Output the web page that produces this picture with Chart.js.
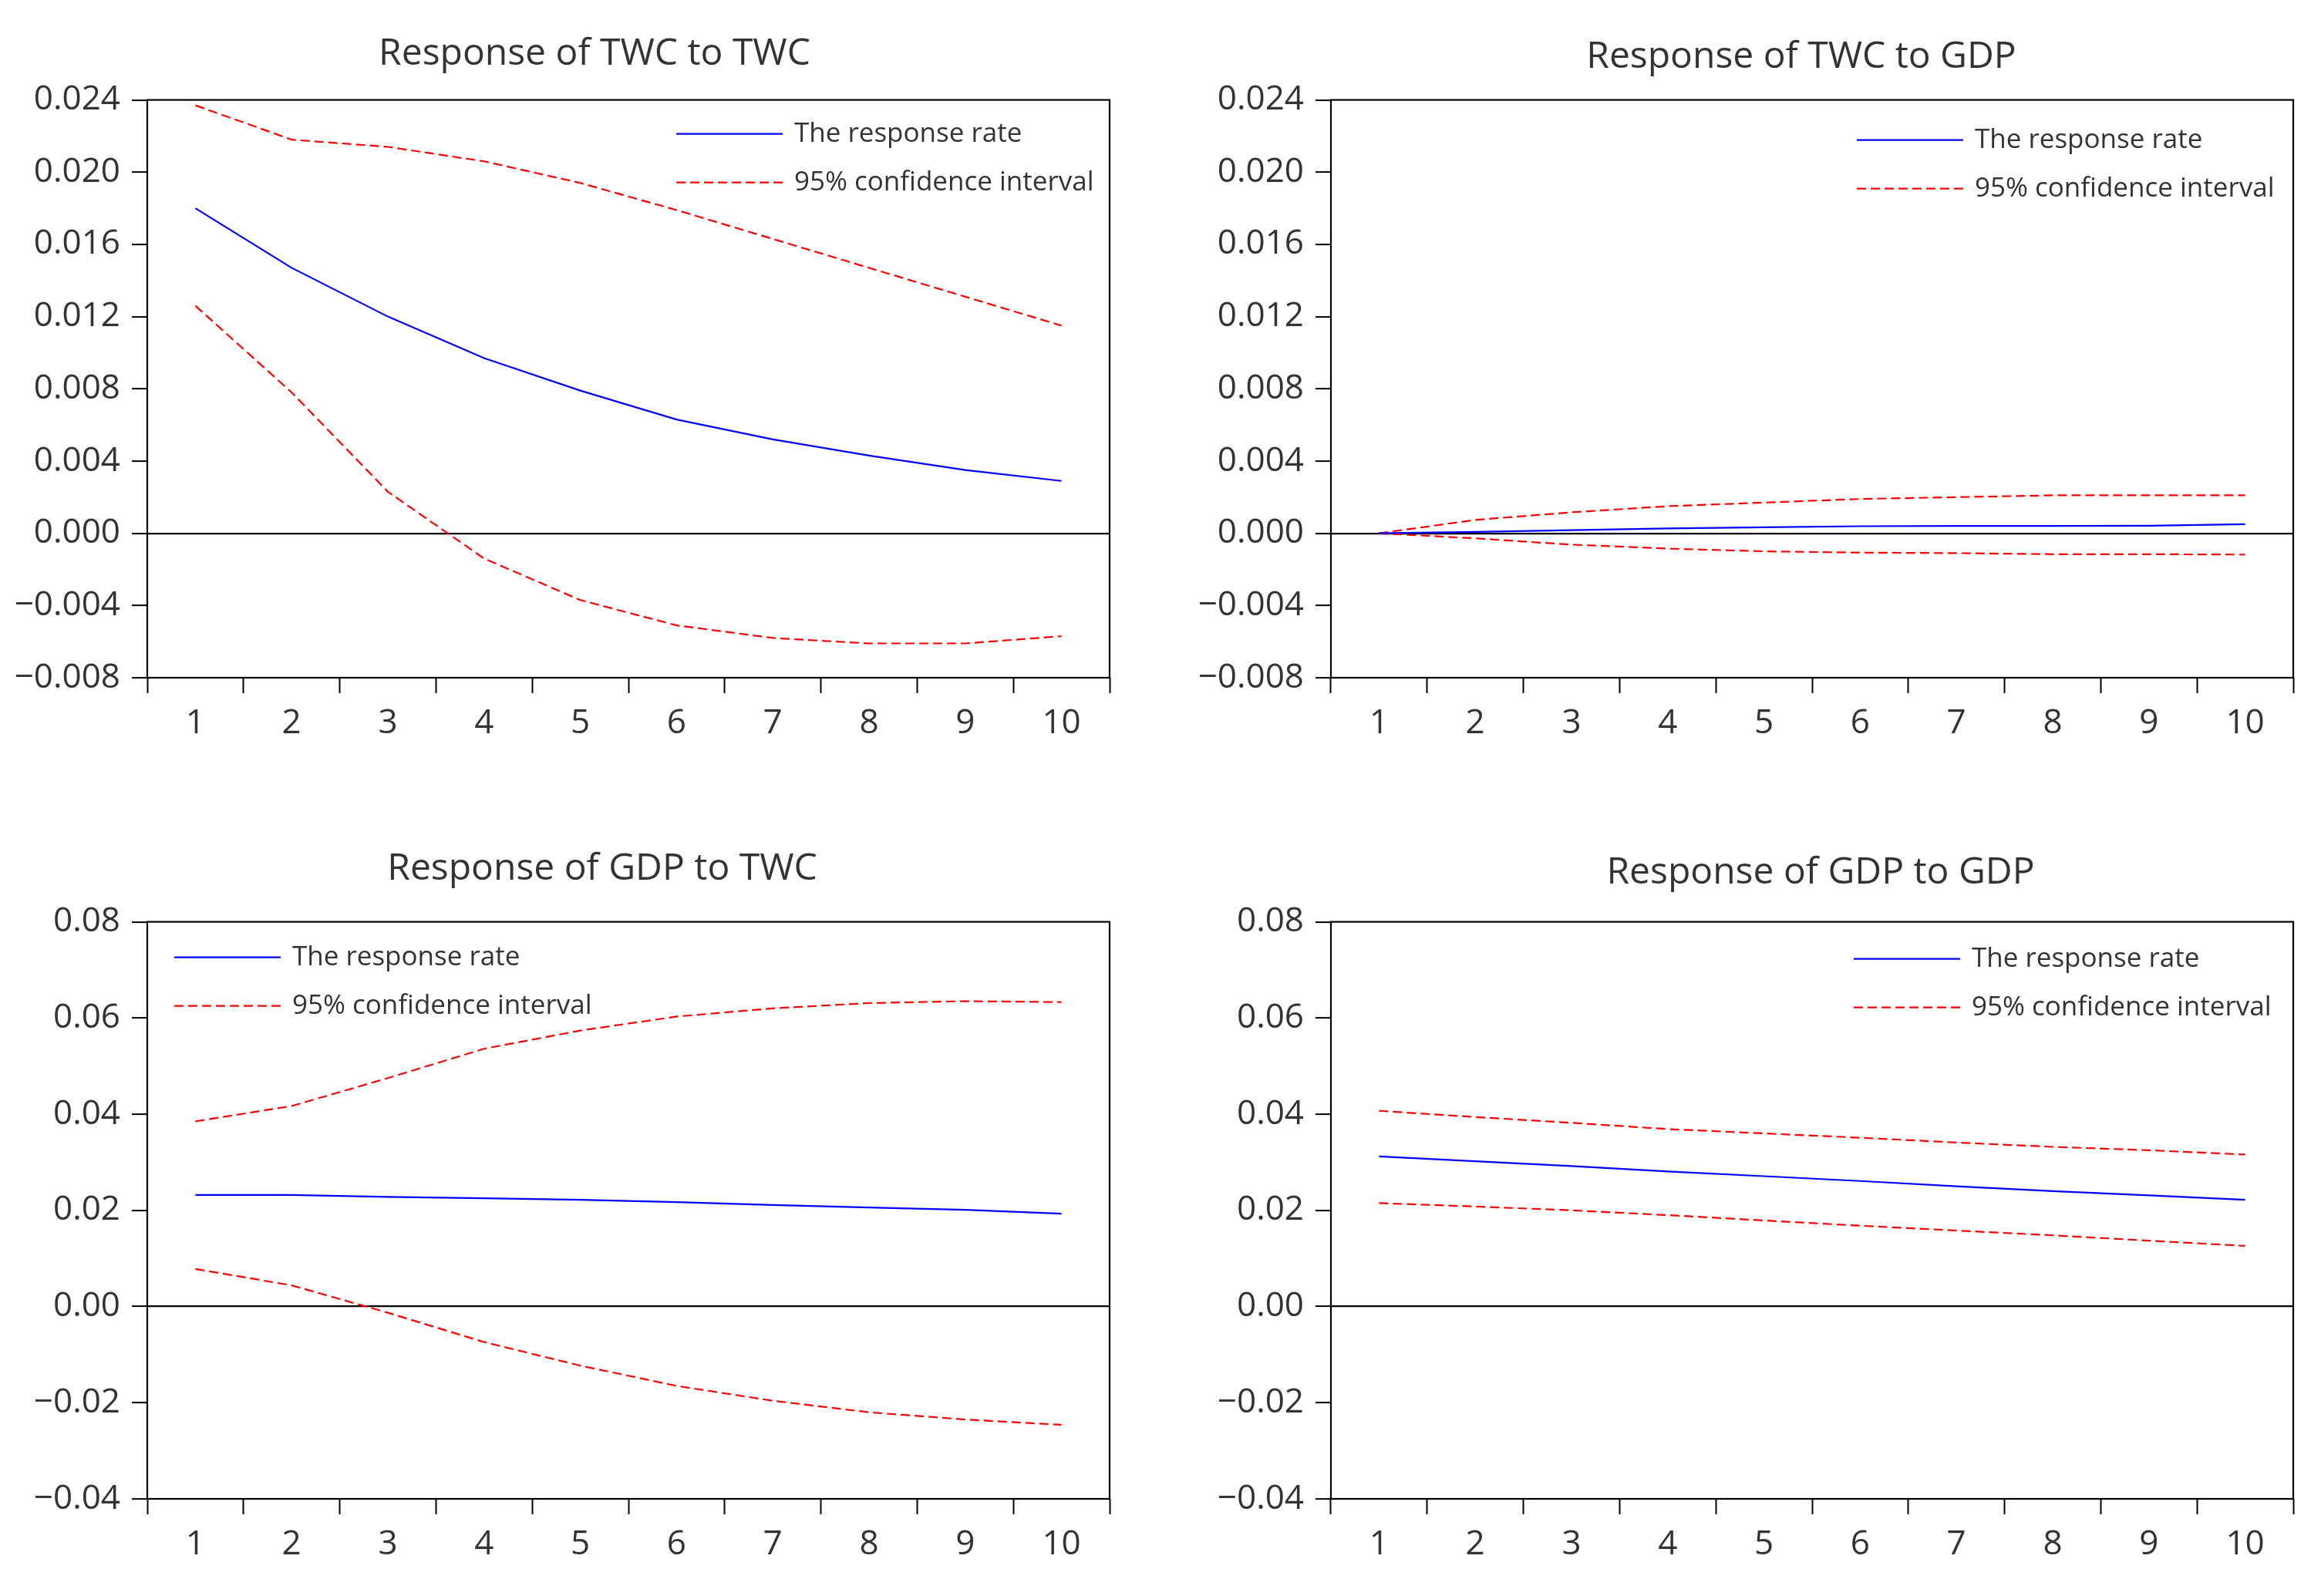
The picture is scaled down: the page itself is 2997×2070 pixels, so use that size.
<!DOCTYPE html>
<html>
<head>
<meta charset="utf-8">
<script src="https://cdn.jsdelivr.net/npm/chart.js@4.4.1/dist/chart.umd.min.js"></script>
<style>
  html, body { margin: 0; padding: 0; background: #fff; width: 2997px; height: 2070px; overflow: hidden; position: relative; }
  .panel { position: absolute; }
</style>
</head>
<body>
<div class="panel" id="p1"><canvas id="c1"></canvas></div>
<div class="panel" id="p2"><canvas id="c2"></canvas></div>
<div class="panel" id="p3"><canvas id="c3"></canvas></div>
<div class="panel" id="p4"><canvas id="c4"></canvas></div>
<script>
// ---------------- DATA ----------------
const categories = ['1', '2', '3', '4', '5', '6', '7', '8', '9', '10'];

const titles = ['Response of TWC to TWC', 'Response of TWC to GDP', 'Response of GDP to TWC', 'Response of GDP to GDP'];
const legendLabels = ['The response rate', '95% confidence interval'];

// Response of TWC to TWC
const twcTwcResp  = [0.0180, 0.0147, 0.0120, 0.0097, 0.0079, 0.0063, 0.0052, 0.0043, 0.0035, 0.0029];
const twcTwcUpper = [0.0237, 0.0218, 0.0214, 0.0206, 0.0194, 0.0179, 0.0163, 0.0147, 0.0131, 0.0115];
const twcTwcLower = [0.0126, 0.0078, 0.0023, -0.0014, -0.0037, -0.0051, -0.0058, -0.0061, -0.0061, -0.0057];

// Response of TWC to GDP
const twcGdpResp  = [0.0000, 0.00008, 0.00017, 0.00027, 0.00033, 0.00039, 0.00041, 0.00041, 0.00042, 0.00050];
const twcGdpUpper = [0.0000, 0.00074, 0.00116, 0.00150, 0.00170, 0.00190, 0.00200, 0.00210, 0.00210, 0.00210];
const twcGdpLower = [0.0000, -0.00028, -0.00063, -0.00085, -0.00100, -0.00107, -0.00110, -0.00116, -0.00116, -0.00118];

// Response of GDP to TWC
const gdpTwcResp  = [0.0232, 0.0232, 0.0228, 0.0225, 0.0222, 0.0217, 0.0211, 0.0206, 0.0201, 0.0193];
const gdpTwcUpper = [0.0385, 0.0417, 0.0475, 0.0536, 0.0574, 0.0603, 0.0620, 0.0631, 0.0635, 0.0633];
const gdpTwcLower = [0.0078, 0.0044, -0.0013, -0.0074, -0.0123, -0.0165, -0.0196, -0.0220, -0.0235, -0.0246];

// Response of GDP to GDP
const gdpGdpResp  = [0.0312, 0.0302, 0.0292, 0.0281, 0.0271, 0.0261, 0.0250, 0.0240, 0.0231, 0.0222];
const gdpGdpUpper = [0.0407, 0.0394, 0.0382, 0.0369, 0.0360, 0.0351, 0.0341, 0.0332, 0.0325, 0.0316];
const gdpGdpLower = [0.0215, 0.0208, 0.0200, 0.0190, 0.0179, 0.0168, 0.0158, 0.0148, 0.0137, 0.0126];

// Y tick values and labels
const yTicksTwc = [-0.008, -0.004, 0.000, 0.004, 0.008, 0.012, 0.016, 0.020, 0.024];
const yTickLabelsTwc = ['\u22120.008', '\u22120.004', '0.000', '0.004', '0.008', '0.012', '0.016', '0.020', '0.024'];
const yTicksGdp = [-0.04, -0.02, 0.00, 0.02, 0.04, 0.06, 0.08];
const yTickLabelsGdp = ['\u22120.04', '\u22120.02', '0.00', '0.02', '0.04', '0.06', '0.08'];

// ---------------- STYLE / LAYOUT ----------------
const FONT = "'Open Sans', 'Noto Sans', sans-serif";
const TEXT = '#333333';
const DASH = [12, 6];

const framePlugin = {
  id: 'frame',
  afterDraw(chart) {
    const {ctx, chartArea: a} = chart;
    ctx.save();
    ctx.strokeStyle = '#000';
    ctx.lineWidth = 2.2;
    ctx.strokeRect(a.left, a.top, a.right - a.left, a.bottom - a.top);
    ctx.restore();
  }
};

const insideLegend = {
  id: 'insideLegend',
  afterDraw(chart, args, opts) {
    const {ctx, chartArea: a} = chart;
    const x0 = a.left + opts.dx;
    const y0 = a.top + opts.dy;
    [0, 1].forEach(i => {
      const ds = chart.data.datasets[i];
      const y = y0 + i * opts.rowGap;
      ctx.save();
      ctx.strokeStyle = ds.borderColor;
      ctx.lineWidth = ds.borderWidth;
      ctx.setLineDash(ds.borderDash || []);
      ctx.beginPath();
      ctx.moveTo(x0, y);
      ctx.lineTo(x0 + opts.lineLen, y);
      ctx.stroke();
      ctx.setLineDash([]);
      ctx.fillStyle = TEXT;
      ctx.font = opts.fontSize + 'px ' + FONT;
      ctx.textAlign = 'left';
      ctx.textBaseline = 'middle';
      ctx.fillText(ds.label, x0 + opts.lineLen + opts.gap, y);
      ctx.restore();
    });
  }
};

// pl: layout padding left, yw: y-axis box width, rw: blank right box width (shifts title centre)
const panels = [
  { canvas: 'c1', box: 'p1', left: 0,    top: 0,    w: 1542, h: 979, series: [twcTwcResp, twcTwcUpper, twcTwcLower], title: titles[0], ticks: yTicksTwc, tickLabels: yTickLabelsTwc, min: -0.008, max: 0.024, pl: 0,  pr: 0, yw: 191, rw: 103, pt: 42, pb: 30, lg: {dx: 686, dy: 44} },
  { canvas: 'c2', box: 'p2', left: 1500, top: 0,    w: 1622, h: 979, series: [twcGdpResp, twcGdpUpper, twcGdpLower], title: titles[1], ticks: yTicksTwc, tickLabels: yTickLabelsTwc, min: -0.008, max: 0.024, pl: 50, pr: 0, yw: 176, rw: 148, pt: 46, pb: 26, lg: {dx: 682, dy: 52} },
  { canvas: 'c3', box: 'p3', left: 0,    top: 1066, w: 1562, h: 978, series: [gdpTwcResp, gdpTwcUpper, gdpTwcLower], title: titles[2], ticks: yTicksGdp, tickLabels: yTickLabelsGdp, min: -0.04, max: 0.08,   pl: 0,  pr: 0, yw: 191, rw: 123, pt: 33, pb: 39, lg: {dx: 35,  dy: 46} },
  { canvas: 'c4', box: 'p4', left: 1500, top: 1066, w: 1722, h: 978, series: [gdpGdpResp, gdpGdpUpper, gdpGdpLower], title: titles[3], ticks: yTicksGdp, tickLabels: yTickLabelsGdp, min: -0.04, max: 0.08,   pl: 0,  pr: 0, yw: 226, rw: 248, pt: 38, pb: 34, lg: {dx: 678, dy: 48} }
];

panels.forEach(p => {
  const box = document.getElementById(p.box);
  box.style.left = p.left + 'px';
  box.style.top = p.top + 'px';
  box.style.width = p.w + 'px';
  box.style.height = p.h + 'px';

  const scales = {
    x: {
      type: 'category',
      offset: true,
      grid: { display: true, offset: true, drawOnChartArea: false, drawTicks: true, tickLength: 20, tickColor: '#000', tickWidth: 2, color: '#000' },
      border: { display: false },
      ticks: { color: TEXT, font: { family: FONT, size: 44 }, padding: 13, maxRotation: 0, autoSkip: false },
      afterFit: s => { s.height = 100; }
    },
    y: {
      type: 'linear',
      position: 'left',
      min: p.min,
      max: p.max,
      afterBuildTicks: s => { s.ticks = p.ticks.map(v => ({ value: v })); },
      grid: {
        drawOnChartArea: true,
        drawTicks: true,
        tickLength: 20,
        tickColor: '#000',
        tickWidth: 2,
        lineWidth: 2.2,
        color: c => (c.tick && Math.abs(c.tick.value) < 1e-12) ? '#000' : 'rgba(0,0,0,0)'
      },
      border: { display: false },
      ticks: {
        color: TEXT,
        font: { family: FONT, size: 44 },
        padding: 15,
        callback: (v, i) => p.tickLabels[i]
      },
      afterFit: s => { s.width = p.yw; }
    },
    yBlank: {
      type: 'linear',
      position: 'right',
      display: true,
      min: p.min,
      max: p.max,
      grid: { display: false, drawTicks: false },
      border: { display: false },
      ticks: { display: false },
      afterFit: s => { s.width = p.rw; }
    }
  };

  new Chart(document.getElementById(p.canvas), {
    type: 'line',
    data: {
      labels: categories,
      datasets: [
        { label: legendLabels[0], data: p.series[0], borderColor: '#0000ff', borderWidth: 2.2, pointRadius: 0, tension: 0, fill: false, order: 0 },
        { label: legendLabels[1], data: p.series[1], borderColor: '#ff0000', borderWidth: 2.2, borderDash: DASH, pointRadius: 0, tension: 0, fill: false, order: 1 },
        { label: legendLabels[1], data: p.series[2], borderColor: '#ff0000', borderWidth: 2.2, borderDash: DASH, pointRadius: 0, tension: 0, fill: false, order: 1 }
      ]
    },
    options: {
      responsive: true,
      maintainAspectRatio: false,
      animation: false,
      layout: { padding: { left: p.pl, right: p.pr, top: 0, bottom: 0 } },
      plugins: {
        legend: { display: false },
        tooltip: { enabled: false },
        title: {
          display: true,
          text: p.title,
          fullSize: true,
          color: TEXT,
          font: { family: FONT, size: 48, weight: 'normal', lineHeight: 1.2 },
          padding: { top: p.pt, bottom: p.pb }
        },
        insideLegend: { dx: p.lg.dx, dy: p.lg.dy, rowGap: 63, lineLen: 138, gap: 15, fontSize: 35 }
      },
      scales: scales
    },
    plugins: [framePlugin, insideLegend]
  });
});
</script>
</body>
</html>
